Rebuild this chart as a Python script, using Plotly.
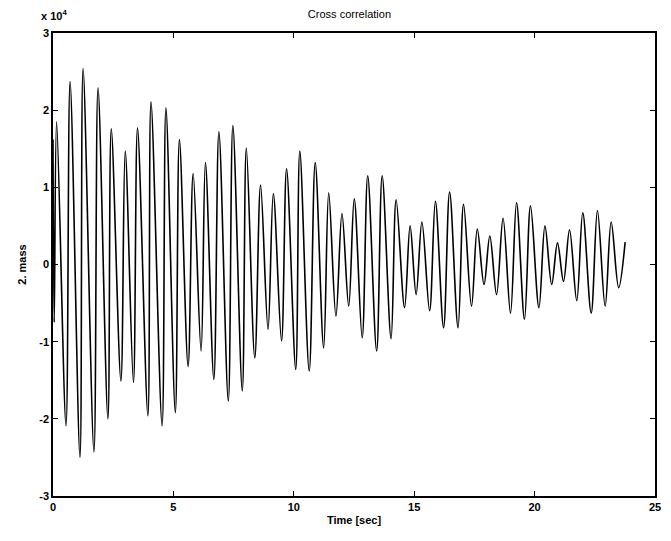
import plotly.graph_objects as go

# Extrema of the cross-correlation trace (values in units of 1e4)
time_sec = [0.00, 0.05, 0.15, 0.54, 0.71, 1.12, 1.25, 1.70, 1.87, 2.28, 2.42, 2.82, 3.00, 3.34,
            3.51, 3.94, 4.07, 4.53, 4.69, 5.08, 5.25, 5.61, 5.82, 6.15, 6.33, 6.68, 6.89, 7.28,
            7.47, 7.86, 8.03, 8.38, 8.62, 8.93, 9.15, 9.49, 9.70, 10.08, 10.25, 10.64, 10.89,
            11.24, 11.45, 11.75, 12.00, 12.28, 12.51, 12.84, 13.07, 13.44, 13.67, 14.04, 14.25,
            14.60, 14.83, 15.08, 15.32, 15.64, 15.88, 16.22, 16.47, 16.82, 17.05, 17.38, 17.62,
            17.90, 18.14, 18.42, 18.69, 19.00, 19.25, 19.58, 19.83, 20.18, 20.43, 20.71, 20.95,
            21.20, 21.45, 21.75, 22.00, 22.35, 22.61, 22.93, 23.18, 23.49, 23.76]
mass2_e4 = [1.62, -0.75, 1.85, -2.09, 2.37, -2.50, 2.54, -2.43, 2.29, -2.00, 1.76, -1.51, 1.47, -1.53,
            1.77, -1.96, 2.11, -2.09, 2.03, -1.92, 1.62, -1.32, 1.18, -1.12, 1.32, -1.49, 1.72, -1.77,
            1.80, -1.64, 1.51, -1.21, 1.03, -0.84, 0.92, -0.99, 1.24, -1.36, 1.47, -1.38, 1.32,
            -1.08, 0.93, -0.67, 0.66, -0.54, 0.85, -0.95, 1.15, -1.12, 1.15, -0.96, 0.84,
            -0.56, 0.50, -0.39, 0.55, -0.60, 0.82, -0.82, 0.94, -0.82, 0.78, -0.54, 0.46,
            -0.26, 0.37, -0.39, 0.60, -0.63, 0.80, -0.71, 0.76, -0.56, 0.50, -0.26, 0.28,
            -0.22, 0.45, -0.47, 0.67, -0.63, 0.70, -0.54, 0.55, -0.30, 0.29]

x_ticks = [0, 5, 10, 15, 20, 25]
x_ticklabels = ["0", "5", "10", "15", "20", "25"]
y_ticks = [-3, -2, -1, 0, 1, 2, 3]
y_ticklabels = ["-3", "-2", "-1", "0", "1", "2", "3"]

font_family = "Liberation Sans, Arial, sans-serif"

fig = go.Figure()
fig.add_trace(go.Scatter(
    x=time_sec, y=mass2_e4, mode="lines",
    line=dict(color="black", width=1.6, shape="spline", smoothing=1.0),
    showlegend=False,
))

axis_common = dict(
    showgrid=False, zeroline=False, showline=True, linecolor="black", linewidth=1.5,
    mirror="ticks", ticks="inside", ticklen=5, tickcolor="black", tickwidth=1,
    automargin=False,
    tickfont=dict(family=font_family, size=11, color="black", weight="bold"),
)

# page adds an 8px body margin, so the figure is sized to fit inside the window
fig.update_layout(
    width=663, height=533,
    margin=dict(l=45, r=16, t=25, b=45, autoexpand=False),
    paper_bgcolor="white", plot_bgcolor="white",
    title=dict(text="Cross correlation", x=0.515, xanchor="center", y=0.996, yanchor="top",
               font=dict(family=font_family, size=11, color="black")),
    xaxis=dict(range=[0, 25], tickvals=x_ticks, ticktext=x_ticklabels,
               title=dict(text="Time [sec]", standoff=4,
                          font=dict(family=font_family, size=11, color="black", weight="bold")),
               **axis_common),
    yaxis=dict(range=[-3, 3], tickvals=y_ticks, ticktext=y_ticklabels,
               title=dict(text="2. mass", standoff=10,
                          font=dict(family=font_family, size=11, color="black", weight="bold")),
               **axis_common),
    annotations=[dict(text="x 10<sup>4</sup>", xref="paper", yref="paper", x=-0.024, y=1.0,
                      xanchor="left", yanchor="bottom", showarrow=False, yshift=9,
                      font=dict(family=font_family, size=11, color="black", weight="bold"))],
)

fig.write_html("out.html")
